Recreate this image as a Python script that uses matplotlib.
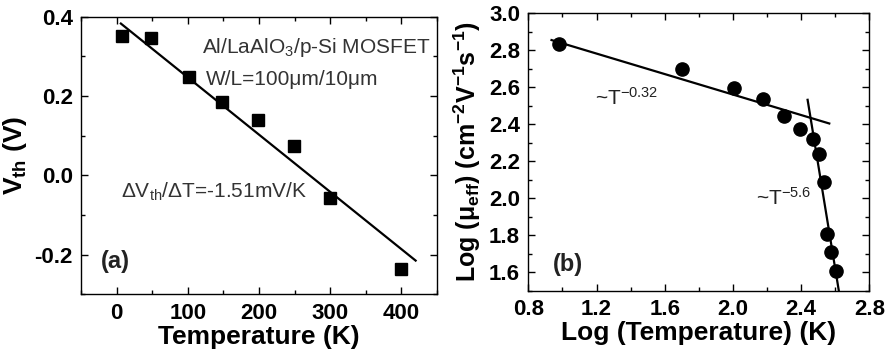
import numpy as np
import matplotlib
matplotlib.use("Agg")
import matplotlib.pyplot as plt
from matplotlib.ticker import MultipleLocator

plt.rcParams["font.family"] = ["Liberation Sans", "DejaVu Sans"]
plt.rcParams["mathtext.fontset"] = "custom"
plt.rcParams["mathtext.rm"] = "Liberation Sans"
plt.rcParams["mathtext.it"] = "Liberation Sans:italic"
plt.rcParams["mathtext.bf"] = "Liberation Sans:bold"
plt.rcParams["axes.unicode_minus"] = False

# panel (a): threshold voltage vs temperature
temp_a = [7, 48, 101, 148, 199, 249, 300, 400]
vth = [0.352, 0.346, 0.248, 0.186, 0.139, 0.074, -0.058, -0.236]
fit_a_x = [6, 420]
fit_a_y = [0.383, -0.215]

# panel (b): log mobility vs log temperature
logt = [0.981, 1.704, 2.005, 2.176, 2.301, 2.394, 2.472, 2.503, 2.534,
        2.552, 2.575, 2.602]
logmu = [2.833, 2.696, 2.596, 2.535, 2.445, 2.372, 2.322, 2.237, 2.090,
         1.807, 1.709, 1.609]
fit_low_x = [0.936, 2.565]
fit_low_y = [2.855, 2.404]
fit_high_x = [2.438, 2.621]
fit_high_y = [2.532, 1.50]

TICK_FS = 16
LABEL_FS = 19
TEXT_FS = 15


def style_axes(ax):
    ax.tick_params(which="both", direction="in", top=True, right=True,
                   width=1.0, labelsize=TICK_FS, pad=6)
    ax.tick_params(which="major", length=5)
    ax.tick_params(which="minor", length=3)
    for lab in ax.get_xticklabels() + ax.get_yticklabels():
        lab.set_fontweight("bold")
    for sp in ax.spines.values():
        sp.set_linewidth(1.0)


fig = plt.figure(figsize=(8.94, 3.58), dpi=100)
ax1 = fig.add_axes([0.0906, 0.178, 0.3982, 0.775])
ax2 = fig.add_axes([0.591, 0.188, 0.3814, 0.775])

# (a)
ax1.plot(temp_a, vth, "s", color="black", markersize=9)
ax1.plot(fit_a_x, fit_a_y, "-", color="black", linewidth=1.6)
ax1.set_xlim(-50, 450)
ax1.set_ylim(-0.3, 0.4)
ax1.xaxis.set_major_locator(MultipleLocator(100))
ax1.xaxis.set_minor_locator(MultipleLocator(50))
ax1.yaxis.set_minor_locator(MultipleLocator(0.1))
ax1.set_yticks([-0.2, 0.0, 0.2, 0.4])
ax1.set_yticklabels(["-0.2", "0.0", "0.2", "0.4"])
ax1.set_xlabel("Temperature (K)", fontsize=LABEL_FS, fontweight="bold",
               labelpad=1)
ax1.set_ylabel(r"V$\mathbf{_{th}}$ (V)", fontsize=LABEL_FS,
               fontweight="bold", labelpad=4)
style_axes(ax1)
ax1.text(441, 0.308, r"Al/LaAlO$_3$/p-Si MOSFET", fontsize=TEXT_FS,
         ha="right", va="baseline", color="#333333")
ax1.text(126, 0.229, "W/L=100μm/10μm", fontsize=TEXT_FS,
         ha="left", va="baseline", color="#333333")
ax1.text(6, -0.056, r"ΔV$\mathrm{_{th}}$/ΔT=-1.51mV/K", fontsize=TEXT_FS,
         ha="left", va="baseline", color="#333333")
ax1.text(-22, -0.218, "(a)", fontsize=17, fontweight="bold",
         ha="left", va="center", color="#222222")

# (b)
ax2.plot(logt, logmu, "o", color="black", markersize=9.5)
ax2.plot(fit_low_x, fit_low_y, "-", color="black", linewidth=1.6)
ax2.plot(fit_high_x, fit_high_y, "-", color="black", linewidth=1.6)
ax2.set_xlim(0.8, 2.8)
ax2.set_ylim(1.5, 3.0)
ax2.xaxis.set_major_locator(MultipleLocator(0.4))
ax2.xaxis.set_minor_locator(MultipleLocator(0.2))
ax2.yaxis.set_minor_locator(MultipleLocator(0.1))
ax2.xaxis.set_major_formatter(plt.FormatStrFormatter("%.1f"))
ax2.yaxis.set_major_formatter(plt.FormatStrFormatter("%.1f"))
ax2.set_yticks([1.6, 1.8, 2.0, 2.2, 2.4, 2.6, 2.8, 3.0])
ax2.set_xlabel("Log (Temperature) (K)", fontsize=LABEL_FS,
               fontweight="bold", labelpad=1)
ax2.set_ylabel(r"Log (μ$\mathbf{_{eff}}$) (cm$\mathbf{^{-2}}$V$\mathbf{^{-1}}$s$\mathbf{^{-1}}$)",
               fontsize=18, fontweight="bold", labelpad=4)
style_axes(ax2)
ax2.text(1.191, 2.505, r"~T$^{-0.32}$", fontsize=TEXT_FS,
         ha="left", va="baseline", color="#222222")
ax2.text(2.133, 1.962, r"~T$^{-5.6}$", fontsize=TEXT_FS,
         ha="left", va="baseline", color="#222222")
ax2.text(0.944, 1.639, "(b)", fontsize=17, fontweight="bold",
         ha="left", va="center", color="#222222")

fig.savefig("out.png", dpi=100)
